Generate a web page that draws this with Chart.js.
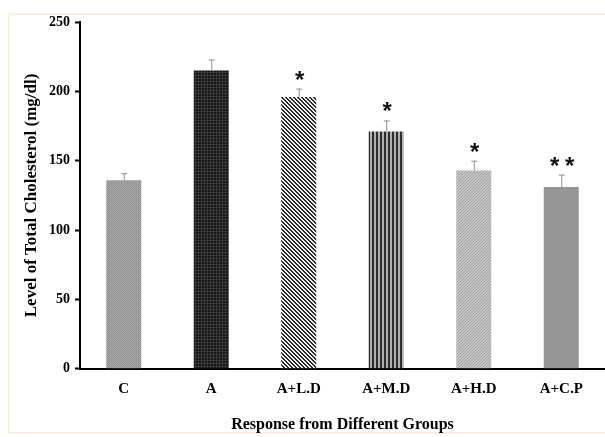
<!DOCTYPE html>
<html>
<head>
<meta charset="utf-8">
<script src="https://cdn.jsdelivr.net/npm/chart.js@4/dist/chart.umd.min.js"></script>
<style>
  html, body { margin: 0; padding: 0; background: #fff; }
  #wrap { width: 605px; height: 437px; position: relative; }
</style>
</head>
<body>
<div id="wrap"><canvas id="chol"></canvas></div>
<script>
// values
var groups = ['C', 'A', 'A+L.D', 'A+M.D', 'A+H.D', 'A+C.P'];
var cholesterol = [136, 215, 196, 171, 143, 131];
var errUp = [5, 8, 6, 8, 7, 9];
var stars = ['', '', '*', '*', '*', '**'];
var yTicks = [0, 50, 100, 150, 200, 250];

// little tiles that mimic the excel fill patterns
function tile(w, h, draw) {
  var c = document.createElement('canvas');
  c.width = w; c.height = h;
  var g = c.getContext('2d');
  draw(g);
  return document.getElementById('chol').getContext('2d').createPattern(c, 'repeat');
}

var fills = [
  tile(2, 2, function (g) { // C - mid grey dots
    g.fillStyle = '#a8a8a8'; g.fillRect(0, 0, 2, 2);
    g.fillStyle = '#929292'; g.fillRect(0, 0, 1, 1); g.fillRect(1, 1, 1, 1);
  }),
  tile(3, 3, function (g) { // A - black grid
    g.fillStyle = '#151515'; g.fillRect(0, 0, 3, 3);
    g.fillStyle = '#3a3a3a'; g.fillRect(0, 0, 1, 3); g.fillRect(0, 0, 3, 1);
  }),
  tile(4, 4, function (g) { // A+L.D - diagonal hatch
    g.fillStyle = '#f2f2f2'; g.fillRect(0, 0, 4, 4);
    g.fillStyle = '#2a2a2a';
    for (var i = 0; i < 4; i++) { g.fillRect(i, i, 1, 1); g.fillRect((i + 1) % 4, i, 1, 1); }
  }),
  tile(4, 1, function (g) { // A+M.D - vertical stripes
    g.fillStyle = '#b0b0b0'; g.fillRect(0, 0, 4, 1);
    g.fillStyle = '#2e2e2e'; g.fillRect(0, 0, 2, 1);
  }),
  tile(3, 3, function (g) { // A+H.D - light grey speckle
    g.fillStyle = '#c6c6c6'; g.fillRect(0, 0, 3, 3);
    g.fillStyle = '#9e9e9e'; g.fillRect(0, 0, 1, 1); g.fillRect(2, 1, 1, 1); g.fillRect(1, 2, 1, 1);
  }),
  tile(2, 2, function (g) { // A+C.P - grey
    g.fillStyle = '#9c9c9c'; g.fillRect(0, 0, 2, 2);
    g.fillStyle = '#8e8e8e'; g.fillRect(0, 0, 1, 1); g.fillRect(1, 1, 1, 1);
  })
];

// background + peach frame
var framePlugin = {
  id: 'frame',
  beforeDraw: function (chart) {
    var ctx = chart.ctx;
    ctx.save();
    ctx.fillStyle = '#ffffff';
    ctx.fillRect(0, 0, chart.width, chart.height);
    ctx.strokeStyle = '#fbeee2';
    ctx.lineWidth = 2;
    ctx.strokeRect(9, 14, chart.width, chart.height - 18);
    ctx.restore();
  }
};

// upper error bars and significance stars
var errPlugin = {
  id: 'errs',
  afterDatasetsDraw: function (chart) {
    var ctx = chart.ctx;
    var y = chart.scales.y;
    var meta = chart.getDatasetMeta(0);
    ctx.save();
    meta.data.forEach(function (bar, i) {
      var top = y.getPixelForValue(cholesterol[i] + errUp[i]);
      ctx.strokeStyle = '#8f8f8f';
      ctx.lineWidth = 1;
      ctx.beginPath();
      ctx.moveTo(bar.x + 0.5, bar.y);
      ctx.lineTo(bar.x + 0.5, top);
      ctx.moveTo(bar.x - 2.5, top + 0.5);
      ctx.lineTo(bar.x + 3.5, top + 0.5);
      ctx.stroke();
      if (stars[i]) {
        ctx.fillStyle = '#111';
        ctx.font = 'bold 24px "Liberation Sans", Arial, sans-serif';
        ctx.textAlign = 'center';
        ctx.textBaseline = 'alphabetic';
        var n = stars[i].length;
        for (var k = 0; k < n; k++) {
          ctx.fillText('*', bar.x + 1 + (k - (n - 1) / 2) * 15, top - 1);
        }
      }
    });
    ctx.restore();
  }
};

var serifBold = { family: '"Liberation Serif", "Times New Roman", serif', weight: 'bold' };

new Chart(document.getElementById('chol'), {
  type: 'bar',
  data: {
    labels: groups,
    datasets: [{
      data: cholesterol,
      backgroundColor: fills,
      borderWidth: 0,
      barPercentage: 0.8,
      categoryPercentage: 0.5
    }]
  },
  options: {
    responsive: true,
    maintainAspectRatio: false,
    animation: false,
    devicePixelRatio: 1,
    layout: { padding: { left: 21, top: 22, right: 0, bottom: 3 } },
    plugins: {
      legend: { display: false },
      tooltip: { enabled: false }
    },
    scales: {
      x: {
        grid: { display: false, drawTicks: false },
        border: { color: '#000', width: 2 },
        ticks: {
          color: '#000',
          padding: 11,
          font: Object.assign({ size: 15 }, serifBold)
        },
        title: {
          display: true,
          text: 'Response from Different Groups',
          color: '#000',
          padding: { top: 6, bottom: 0 },
          font: Object.assign({ size: 16 }, serifBold)
        }
      },
      y: {
        min: 0,
        max: 250,
        afterBuildTicks: function (axis) {
          axis.ticks = yTicks.map(function (v) { return { value: v }; });
        },
        afterFit: function (axis) { axis.width = 59; },
        grid: { display: true, drawOnChartArea: false, drawTicks: true, tickLength: 5, tickColor: '#000', tickWidth: 2 },
        border: { color: '#000', width: 2 },
        ticks: {
          color: '#000',
          padding: 5,
          font: Object.assign({ size: 14 }, serifBold)
        },
        title: {
          display: true,
          text: 'Level of Total Cholesterol (mg/dl)',
          color: '#000',
          padding: { top: 0, bottom: 4 },
          font: Object.assign({ size: 17 }, serifBold)
        }
      }
    }
  },
  plugins: [framePlugin, errPlugin]
});
</script>
</body>
</html>
